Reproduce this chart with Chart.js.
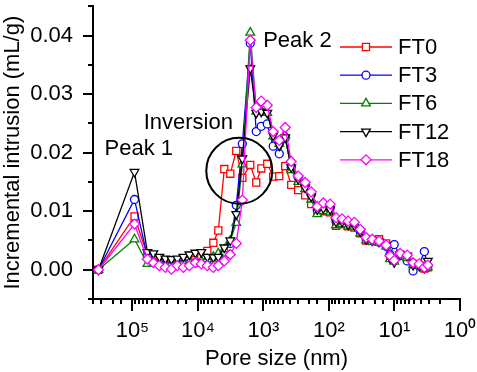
<!DOCTYPE html>
<html>
<head>
<meta charset="utf-8">
<script src="https://cdn.jsdelivr.net/npm/chart.js@4/dist/chart.umd.min.js"></script>
<style>
html, body { margin: 0; padding: 0; background: #fff; }
#wrap { width: 477px; height: 372px; position: relative; }
</style>
</head>
<body>
<div id="wrap"><canvas id="c"></canvas></div>
<script>
// ===== Incremental intrusion vs pore size (MIP), FT0..FT18 =====

// pore size steps (nm), shared by all samples
const poreSize = [330000, 93000, 59100, 47900, 38800, 31400, 25400, 20600, 16700, 13500,
    10960, 8880, 7190, 5820, 4890, 3960, 3210, 2600, 2100, 1590,
    1290, 1080, 875, 710, 574, 465, 377, 295, 231, 187,
    151, 122, 96, 78, 63, 51, 41, 33.4, 27.1, 21.9,
    17.2, 13.4, 11.7, 10.1, 8.2, 6.4, 5.2, 4.2, 3.5, 3.1];

// incremental intrusion (mL/g)
const ft0 = [0, 0.0091, 0.0025, 0.0016, 0.0013, 0.0012, 0.0012, 0.0013, 0.0014, 0.0015,
    0.0017, 0.0021, 0.0032, 0.0046, 0.0067, 0.0172, 0.0164, 0.0203, 0.0157, 0.0179,
    0.0149, 0.0173, 0.0181, 0.0159, 0.0160, 0.0177, 0.0145, 0.0136, 0.0127, 0.0112,
    0.0098, 0.0100, 0.0098, 0.0075, 0.0078, 0.0074, 0.0072, 0.0062, 0.0050, 0.0049,
    0.0052, 0.0045, 0.0022, 0.0018, 0.0026, 0.0022, 0.0010, 0.0008, 0.0002, 0.0004];
const ft3 = [0, 0.0120, 0.0022, 0.0012, 0.0010, 0.0008, 0.0008, 0.0009, 0.0010, 0.0011,
    0.0012, 0.0012, 0.0014, 0.0017, 0.0020, 0.0030, 0.0045, 0.0110, 0.0215, 0.0387,
    0.0236, 0.0245, 0.0249, 0.0211, 0.0198, 0.0225, 0.0175, 0.0158, 0.0145, 0.0128,
    0.0102, 0.0108, 0.0106, 0.0083, 0.0084, 0.0079, 0.0078, 0.0066, 0.0053, 0.0050,
    0.0047, 0.0040, 0.0026, 0.0043, 0.0024, 0.0015, -0.0002, 0.0008, 0.0031, 0.0005];
const ft6 = [0, 0.0052, 0.0010, 0.0012, 0.0010, 0.0009, 0.0009, 0.0010, 0.0011, 0.0013,
    0.0014, 0.0015, 0.0018, 0.0022, 0.0028, 0.0035, 0.0050, 0.0080, 0.0180, 0.0405,
    0.0270, 0.0272, 0.0268, 0.0228, 0.0215, 0.0230, 0.0170, 0.0150, 0.0138, 0.0120,
    0.0095, 0.0100, 0.0098, 0.0076, 0.0078, 0.0074, 0.0073, 0.0062, 0.0050, 0.0048,
    0.0046, 0.0040, 0.0018, 0.0014, 0.0024, 0.0020, 0.0008, 0.0006, 0.0002, 0.0004];
const ft12 = [0, 0.0167, 0.0030, 0.0028, 0.0022, 0.0019, 0.0018, 0.0019, 0.0022, 0.0026,
    0.0029, 0.0030, 0.0022, 0.0021, 0.0022, 0.0038, 0.0050, 0.0095, 0.0190, 0.0344,
    0.0268, 0.0270, 0.0268, 0.0229, 0.0212, 0.0226, 0.0175, 0.0155, 0.0140, 0.0125,
    0.0103, 0.0105, 0.0103, 0.0082, 0.0082, 0.0077, 0.0076, 0.0065, 0.0052, 0.0050,
    0.0048, 0.0041, 0.0020, 0.0013, 0.0026, 0.0024, 0.0008, 0.0007, 0.0003, 0.0015];
const ft18 = [0, 0.0078, 0.0018, 0.0012, 0.0007, 0.0004, 0.0001, 0.0007, 0.0004, 0.0007,
    0.0012, 0.0010, 0.0007, 0.0004, 0.0007, 0.0015, 0.0026, 0.0045, 0.0119, 0.0392,
    0.0277, 0.0288, 0.0281, 0.0236, 0.0221, 0.0243, 0.0185, 0.0160, 0.0149, 0.0133,
    0.0108, 0.0114, 0.0112, 0.0089, 0.0087, 0.0083, 0.0081, 0.0069, 0.0055, 0.0052,
    0.0049, 0.0042, 0.0024, 0.0016, 0.0028, 0.0025, 0.0012, 0.0010, 0.0004, 0.0008];

const seriesNames = ['FT0', 'FT3', 'FT6', 'FT12', 'FT18'];
const seriesValues = [ft0, ft3, ft6, ft12, ft18];
const seriesColors = ['#ff0000', '#0000ff', '#008000', '#000000', '#ff00ff'];
const seriesMarkers = ['rect', 'circle', 'triangle', 'triangle', 'rectRot'];
const seriesRotation = [0, 0, 0, 180, 0];
const seriesRadius = [5, 4, 5, 5, 5];

// axis ranges and tick labels
const xMin = 1, xMax = 4e5;
const yMin = -0.005, yMax = 0.045, yStep = 0.005;
const xDecades = [1, 10, 100, 1000, 1e4, 1e5];
const xDecadeLabels = ['10\u2070', '10\u00B9', '10\u00B2', '10\u00B3', '10\u2074', '10\u2075'];

// annotations (data units)
const notes = [
    { text: 'Peak 1', x: 2.67e5, y: 0.0196 },
    { text: 'Inversion', x: 6.73e4, y: 0.0240 },
    { text: 'Peak 2', x: 1010, y: 0.0380 },
];
const ring = { x: 2340, y: 0.0169, r: 33 };

const FONT = '"Liberation Sans", Arial, sans-serif';
Chart.defaults.font.family = FONT;
Chart.defaults.font.size = 22;
Chart.defaults.color = '#000';

const decadeIdx = v => xDecades.findIndex(d => Math.abs(Math.log10(v) - Math.log10(d)) < 1e-6);
const isMajorY = v => Math.abs(v / 0.01 - Math.round(v / 0.01)) < 1e-6;

const axisTicks = {
    id: 'axisTicks',
    afterDraw(chart) {
        const { ctx, scales: { x, y } } = chart;
        ctx.save();
        ctx.strokeStyle = '#000';
        ctx.lineWidth = 2;
        x.ticks.forEach(t => {
            const px = Math.round(x.getPixelForValue(t.value));
            const len = decadeIdx(t.value) >= 0 ? 12 : 5;
            ctx.beginPath(); ctx.moveTo(px, x.top); ctx.lineTo(px, x.top + len); ctx.stroke();
        });
        y.ticks.forEach(t => {
            const py = Math.round(y.getPixelForValue(t.value));
            const len = isMajorY(t.value) ? 10 : 5;
            ctx.beginPath(); ctx.moveTo(y.right, py); ctx.lineTo(y.right - len, py); ctx.stroke();
        });
        ctx.restore();
    }
};

const notesPlugin = {
    id: 'notes',
    afterDatasetsDraw(chart) {
        const { ctx, scales: { x, y } } = chart;
        ctx.save();
        ctx.fillStyle = '#000';
        ctx.font = '22px ' + FONT;
        ctx.textBaseline = 'alphabetic';
        notes.forEach(n => ctx.fillText(n.text, x.getPixelForValue(n.x), y.getPixelForValue(n.y)));
        ctx.strokeStyle = '#000';
        ctx.lineWidth = 2;
        ctx.beginPath();
        ctx.arc(x.getPixelForValue(ring.x), y.getPixelForValue(ring.y), ring.r, 0, Math.PI * 2);
        ctx.stroke();
        ctx.restore();
    }
};

// legend: line with marker in the middle, placed inside the plot at upper right
const legendBox = {
    id: 'legendBox',
    afterDraw(chart) {
        const { ctx } = chart;
        const x0 = 340, x1 = 392, tx = 398, y0 = 47, dy = 28.2;
        ctx.save();
        ctx.font = '22px ' + FONT;
        ctx.textBaseline = 'middle';
        seriesNames.forEach((name, i) => {
            const yy = y0 + i * dy;
            ctx.strokeStyle = seriesColors[i];
            ctx.lineWidth = 1.3;
            ctx.beginPath(); ctx.moveTo(x0, yy); ctx.lineTo(x1, yy); ctx.stroke();
            ctx.fillStyle = '#fff';
            Chart.helpers.drawPoint(ctx, {
                pointStyle: seriesMarkers[i], radius: seriesRadius[i],
                rotation: seriesRotation[i], borderWidth: 1.3
            }, (x0 + x1) / 2, yy);
            ctx.fillStyle = '#000';
            ctx.fillText(name, tx, yy + 1);
        });
        ctx.restore();
    }
};

const datasets = seriesNames.map((name, i) => ({
    label: name,
    data: poreSize.map((p, j) => ({ x: p, y: seriesValues[i][j] })),
    borderColor: seriesColors[i],
    backgroundColor: '#fff',
    borderWidth: 1.3,
    pointStyle: seriesMarkers[i],
    pointRotation: seriesRotation[i],
    pointRadius: seriesRadius[i],
    pointBorderWidth: 1.3,
    pointBorderColor: seriesColors[i],
    pointBackgroundColor: '#fff',
    tension: 0,
    order: 5 - i,
}));

new Chart(document.getElementById('c'), {
    type: 'line',
    data: { datasets },
    options: {
        responsive: true,
        maintainAspectRatio: false,
        animation: false,
        devicePixelRatio: 1,
        layout: { padding: { top: 2, right: 17, left: 0, bottom: 0 } },
        plugins: { legend: { display: false }, tooltip: { enabled: false } },
        scales: {
            x: {
                type: 'logarithmic', reverse: true, min: xMin, max: xMax,
                grid: { display: false, drawTicks: false },
                border: { display: true, color: '#000', width: 2 },
                ticks: {
                    autoSkip: false, maxRotation: 0, padding: 19,
                    callback: v => { const k = decadeIdx(v); return k >= 0 ? xDecadeLabels[k] : ''; }
                },
                title: { display: true, text: 'Pore size (nm)', padding: 0 },
                afterFit: s => { s.height = 73; s.paddingLeft = 0; s.paddingRight = 0; }
            },
            y: {
                min: yMin, max: yMax,
                grid: { display: false, drawTicks: false },
                border: { display: true, color: '#000', width: 2 },
                ticks: {
                    stepSize: yStep, autoSkip: false, padding: 20,
                    callback: v => isMajorY(v) ? (Math.abs(v) < 1e-9 ? 0 : v).toFixed(2) : ''
                },
                title: { display: true, text: 'Incremental intrusion (mL/g)', padding: 0 },
                afterFit: s => { s.width = 93; s.paddingTop = 0; s.paddingBottom = 0; }
            }
        }
    },
    plugins: [axisTicks, notesPlugin, legendBox]
});
</script>
</body>
</html>
